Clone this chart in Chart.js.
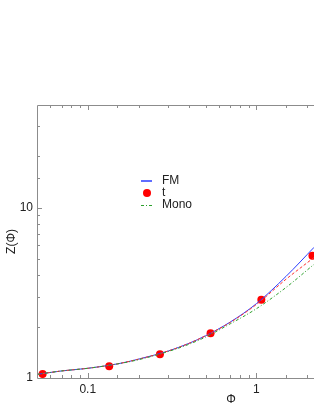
<!DOCTYPE html>
<html>
<head>
<meta charset="utf-8">
<script src="https://cdn.jsdelivr.net/npm/chart.js@4"></script>
<style>
  html, body { margin: 0; padding: 0; background: #fff; overflow: hidden; }
  #clip { width: 314px; height: 407px; overflow: hidden; position: relative; }
  #box { width: 430px; height: 407px; position: absolute; left: 0; top: 0; }
</style>
</head>
<body>
<div id="clip"><div id="box"><canvas id="chart"></canvas></div></div>
<script>
const phiGrid = [0.05, 0.07, 0.1, 0.15, 0.2, 0.3, 0.4, 0.5, 0.7, 1.0, 1.5, 2.2];
const fmValues = [1.05, 1.10, 1.14, 1.21, 1.29, 1.44, 1.60, 1.77, 2.13, 2.73, 3.95, 5.85];
const tLineValues = [1.05, 1.10, 1.14, 1.21, 1.29, 1.44, 1.60, 1.77, 2.12, 2.70, 3.80, 5.10];
const monoValues = [1.05, 1.10, 1.14, 1.21, 1.28, 1.43, 1.58, 1.74, 2.08, 2.55, 3.40, 4.65];

// t markers
const tPhi = [0.054, 0.134, 0.268, 0.535, 1.07, 2.15];
const tValues = [1.055, 1.172, 1.378, 1.833, 2.876, 5.22];

const legendLabels = ['FM', 't', 'Mono'];
const xTickLabels = [0.1, 1];
const yTickLabels = [1, 10];

const axisColor = '#8c8c8c';
const textColor = '#222';
const fmColor = '#2a3cff';
const tColor = '#ff0000';
const tLineColor = '#ff3030';
const monoColor = '#2ca02c';
const monoDash = [3, 2, 1, 2];
const fontFamily = '"Liberation Sans", Arial, sans-serif';

function toPoints(xs, ys) {
  return xs.map(function(x, i) { return {x: x, y: ys[i]}; });
}

function isDecade(v) {
  const l = Math.log10(v);
  return Math.abs(l - Math.round(l)) < 1e-6;
}

// frame + inward ticks on left, bottom and top
const frameTicks = {
  id: 'frameTicks',
  afterDraw(chart) {
    const ctx = chart.ctx;
    const a = chart.chartArea;
    const xs = chart.scales.x;
    const ys = chart.scales.y;
    ctx.save();
    ctx.strokeStyle = axisColor;
    ctx.lineWidth = 1;
    ctx.beginPath();
    ctx.moveTo(a.left + 0.5, a.top + 0.5);
    ctx.lineTo(a.left + 0.5, a.bottom + 0.5);
    ctx.lineTo(a.right, a.bottom + 0.5);
    ctx.moveTo(a.left + 0.5, a.top + 0.5);
    ctx.lineTo(a.right, a.top + 0.5);
    xs.ticks.forEach(function(t) {
      const px = Math.round(xs.getPixelForValue(t.value)) + 0.5;
      if (px <= a.left + 1) return;
      const len = isDecade(t.value) ? 5 : 3;
      ctx.moveTo(px, a.bottom);
      ctx.lineTo(px, a.bottom - len);
      ctx.moveTo(px, a.top);
      ctx.lineTo(px, a.top + len);
    });
    ys.ticks.forEach(function(t) {
      const py = Math.round(ys.getPixelForValue(t.value)) + 0.5;
      if (py <= a.top + 1 || py >= a.bottom - 1) return;
      const len = isDecade(t.value) ? 5 : 3;
      ctx.moveTo(a.left, py);
      ctx.lineTo(a.left + len, py);
    });
    ctx.stroke();
    ctx.restore();
  }
};

// legend drawn inside the plot
const innerLegend = {
  id: 'innerLegend',
  afterDatasetsDraw(chart) {
    const ctx = chart.ctx;
    const x0 = 141, x1 = 152, tx = 162;
    const rows = [181, 193, 205];
    ctx.save();
    ctx.font = '12px ' + fontFamily;
    ctx.textBaseline = 'middle';

    // FM: solid line
    ctx.strokeStyle = fmColor;
    ctx.lineWidth = 1.5;
    ctx.beginPath();
    ctx.moveTo(x0, rows[0]);
    ctx.lineTo(x1, rows[0]);
    ctx.stroke();

    // t: filled dot
    ctx.fillStyle = tColor;
    ctx.beginPath();
    ctx.arc((x0 + x1) / 2 + 0.5, rows[1], 4, 0, Math.PI * 2);
    ctx.fill();

    // Mono: dash-dot line
    ctx.strokeStyle = monoColor;
    ctx.lineWidth = 1;
    ctx.setLineDash(monoDash);
    ctx.beginPath();
    ctx.moveTo(x0, rows[2] + 0.5);
    ctx.lineTo(x1, rows[2] + 0.5);
    ctx.stroke();
    ctx.setLineDash([]);

    ctx.fillStyle = textColor;
    legendLabels.forEach(function(lbl, i) {
      ctx.fillText(lbl, tx, rows[i]);
    });
    ctx.restore();
  }
};

new Chart(document.getElementById('chart'), {
  type: 'scatter',
  data: {
    datasets: [
      {
        label: 'Mono',
        data: toPoints(phiGrid, monoValues),
        showLine: true,
        borderColor: monoColor,
        borderWidth: 1,
        borderDash: monoDash,
        pointRadius: 0,
        cubicInterpolationMode: 'monotone'
      },
      {
        label: 't fit',
        data: toPoints(phiGrid, tLineValues),
        showLine: true,
        borderColor: tLineColor,
        borderWidth: 1,
        borderDash: [3, 2],
        pointRadius: 0,
        cubicInterpolationMode: 'monotone'
      },
      {
        label: 'FM',
        data: toPoints(phiGrid, fmValues),
        showLine: true,
        borderColor: fmColor,
        borderWidth: 1,
        pointRadius: 0,
        cubicInterpolationMode: 'monotone'
      },
      {
        label: 't',
        data: toPoints(tPhi, tValues),
        showLine: false,
        pointRadius: 4,
        pointBackgroundColor: tColor,
        pointBorderWidth: 0,
        pointBorderColor: tColor
      }
    ]
  },
  options: {
    responsive: true,
    maintainAspectRatio: false,
    animation: false,
    layout: {
      padding: { top: 105, right: 5, left: 0, bottom: 0 }
    },
    plugins: {
      legend: { display: false },
      tooltip: { enabled: false }
    },
    scales: {
      x: {
        type: 'logarithmic',
        min: 0.05,
        max: 10,
        afterFit: function(scale) { scale.height = 29; },
        grid: { display: false, drawTicks: false },
        border: { display: false },
        ticks: {
          autoSkip: false,
          maxRotation: 0,
          padding: 4,
          color: textColor,
          font: { family: fontFamily, size: 12 },
          callback: function(v) {
            return xTickLabels.some(function(t) { return Math.abs(t - v) < 1e-9; }) ? String(v) : '';
          }
        },
        title: {
          display: true,
          text: 'Φ',
          color: textColor,
          padding: 0,
          font: { family: fontFamily, size: 12 }
        }
      },
      y: {
        type: 'logarithmic',
        min: 1,
        max: 40,
        afterFit: function(scale) { scale.width = 37; },
        grid: { display: false, drawTicks: false },
        border: { display: false },
        ticks: {
          autoSkip: false,
          padding: 4,
          color: textColor,
          font: { family: fontFamily, size: 12 },
          callback: function(v) {
            return yTickLabels.some(function(t) { return Math.abs(t - v) < 1e-9; }) ? String(v) : '';
          }
        },
        title: {
          display: true,
          text: 'Z(Φ)',
          color: textColor,
          padding: 4,
          font: { family: fontFamily, size: 12 }
        }
      }
    }
  },
  plugins: [frameTicks, innerLegend]
});
</script>
</body>
</html>
